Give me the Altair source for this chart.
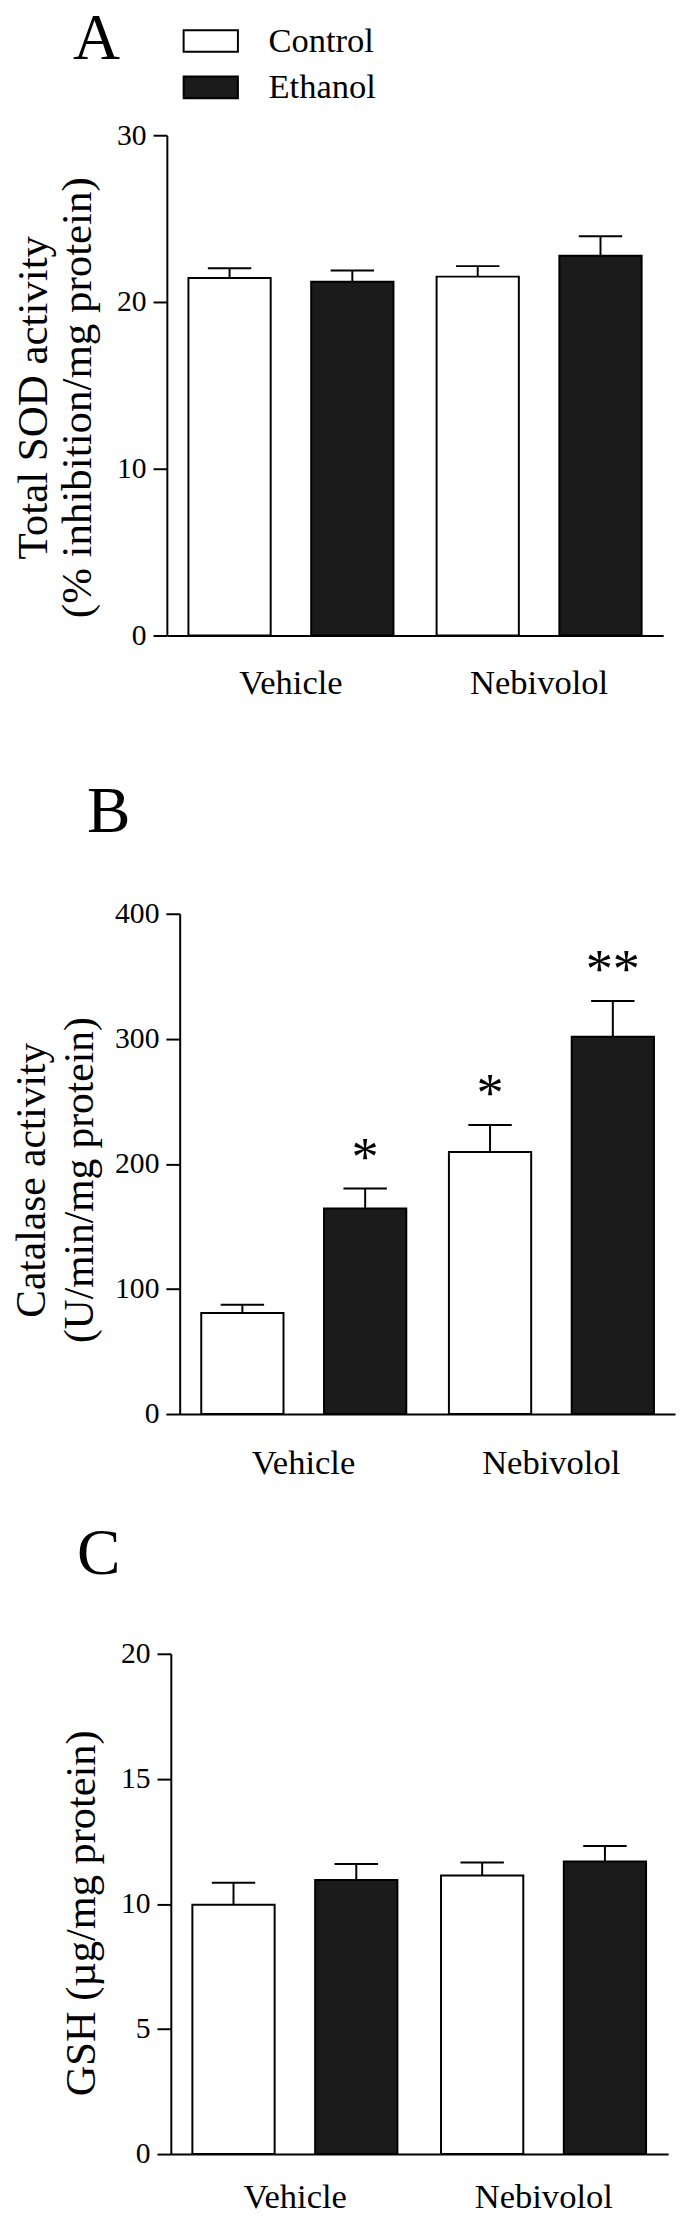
import altair as alt
import pandas as pd

# ---- data ----
groups = ["Vehicle", "Vehicle", "Nebivolol", "Nebivolol"]
treatments = ["Control", "Ethanol", "Control", "Ethanol"]

sod_mean = [21.44, 21.22, 21.52, 22.77]
sod_sem = [0.58, 0.67, 0.63, 1.17]

cat_mean = [80.8, 164.3, 209.5, 301.7]
cat_sem = [6.5, 16.0, 21.6, 28.5]
cat_sig = ["", "*", "*", "**"]

gsh_mean = [9.97, 10.96, 11.14, 11.70]
gsh_sem = [0.88, 0.64, 0.52, 0.62]

group_order = ["Vehicle", "Nebivolol"]
treat_order = ["Control", "Ethanol"]
fill_colors = ["#ffffff", "#1b1b1b"]

FONT = "Liberation Serif"


def make_df(mean, sem, sig=None):
    df = pd.DataFrame({"group": groups, "treatment": treatments,
                       "mean": mean, "sem": sem})
    df["upper"] = df["mean"] + df["sem"]
    df["sig"] = sig if sig is not None else [""] * len(mean)
    return df


def panel(df, letter, ytitle, ymax, ystep, width, height, xmin, yoff,
          tpad, tline, tfont, tyshift, lpad, title_dx, title_dy,
          legend=False, stars=False):
    x = alt.X("group:N", sort=group_order,
              scale=alt.Scale(range=[xmin, width], paddingInner=0,
                              paddingOuter=0),
              axis=alt.Axis(title=None, ticks=False, labelAngle=0,
                            labelFontSize=35, labelPadding=lpad))
    xo = alt.XOffset("treatment:N", sort=treat_order,
                     scale=alt.Scale(paddingInner=0.33, paddingOuter=0.1756))
    y = alt.Y("mean:Q",
              scale=alt.Scale(domain=[0, ymax], nice=False),
              axis=alt.Axis(values=list(range(0, ymax + 1, ystep)),
                            title=ytitle, offset=yoff, tickSize=14,
                            labelPadding=7, labelFontSize=30,
                            titleFontSize=tfont, titlePadding=tpad,
                            titleLineHeight=tline,
                            titleY=height / 2 + tyshift))
    if legend:
        leg = alt.Legend(orient="none", legendX=3, legendY=-124, title=None,
                         symbolType="M-1,-0.4L1,-0.4L1,0.4L-1,0.4Z",
                         symbolSize=3025, symbolStrokeColor="black",
                         symbolStrokeWidth=2, labelFontSize=35,
                         labelFont=FONT, labelColor="black",
                         labelOffset=30, rowPadding=-16, padding=0)
    else:
        leg = None
    fill = alt.Fill("treatment:N", sort=treat_order,
                    scale=alt.Scale(domain=treat_order, range=fill_colors),
                    legend=leg)
    base = alt.Chart(df)
    bars = base.mark_bar(stroke="black", strokeWidth=2, opacity=1).encode(
        x=x, xOffset=xo, y=y, fill=fill)
    err = base.mark_rule(color="black", strokeWidth=2).encode(
        x=x, xOffset=xo, y="mean:Q", y2="upper:Q")
    cap = base.mark_tick(color="black", thickness=2, size=44,
                         opacity=1).encode(x=x, xOffset=xo, y="upper:Q")
    layers = [err, cap, bars]
    if stars:
        txt = base.mark_text(font=FONT, fontSize=55, baseline="middle",
                             dy=-31, color="black").encode(
            x=x, xOffset=xo, y="upper:Q", text="sig:N")
        layers.append(txt)
    return alt.layer(*layers).properties(
        width=width, height=height,
        title=alt.TitleParams(letter, anchor="start", frame="group",
                              fontSize=66, font=FONT, fontWeight="normal",
                              color="black", baseline="alphabetic",
                              offset=0, dx=title_dx, dy=title_dy))


H = 507
pA = panel(make_df(sod_mean, sod_sem), "A",
           ["Total SOD activity", "(% inhibition/mg protein)"],
           30, 10, 490, H, -13, 13, 17, 45, 43.5, 12, 31, -108, 4,
           legend=True)
pB = panel(make_df(cat_mean, cat_sem, cat_sig), "B",
           ["Catalase activity", "(U/min/mg protein)"],
           400, 100, 502, H, 0, 0, 13, 49, 42, 16, 32, -94, -2,
           stars=True)
pC = panel(make_df(gsh_mean, gsh_sem), "C",
           "GSH (\u00b5g/mg protein)",
           20, 5, 495, H, -9, 9, 17, 46, 43, 9, 26, -104, 0)

chart = alt.vconcat(alt.vconcat(pA, pB, spacing=80), pC, spacing=42).properties(
    padding={"left": 3, "top": -16, "right": 0, "bottom": 0},
    background="white"
).configure_axis(
    domainColor="black", tickColor="black", domainWidth=2, tickWidth=2,
    labelColor="black", titleColor="black", grid=False, labelFont=FONT,
    titleFont=FONT, titleFontWeight="normal"
).configure_view(stroke=None)

chart.save("out.html", embed_options={"renderer": "svg", "actions": False})
